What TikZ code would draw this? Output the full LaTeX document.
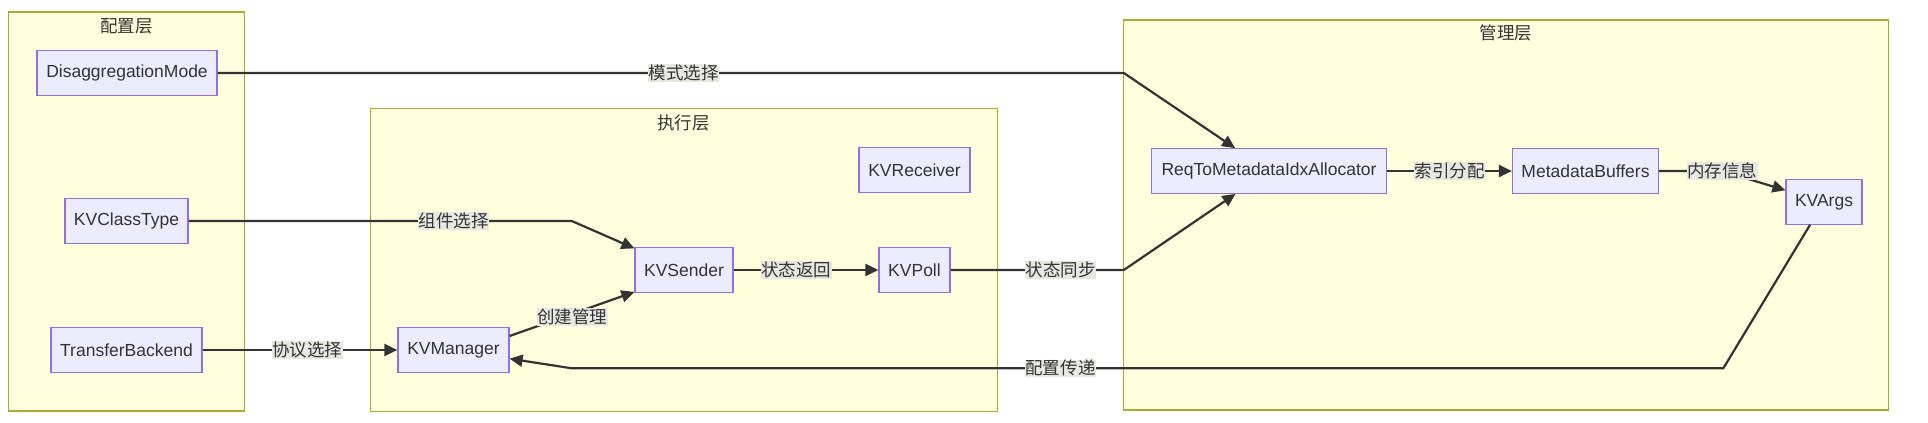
\documentclass[tikz,border=0pt]{standalone}
\usepackage{fontspec}
\setmainfont{Liberation Sans}
\newfontfamily\cjk{Noto Sans CJK SC}
\usetikzlibrary{arrows.meta}
\definecolor{clfill}{HTML}{FFFFDE}
\definecolor{clborder}{HTML}{AAAA33}
\definecolor{boxfill}{HTML}{ECECFF}
\definecolor{boxborder}{HTML}{9370DB}
\definecolor{txt}{HTML}{333333}
\definecolor{edgec}{HTML}{333333}
\definecolor{lblbg}{HTML}{E8E8E3}
\tikzset{
  cluster/.style={draw=clborder, fill=clfill, line width=1.2bp, inner sep=0},
  ttl/.style={text=txt, font=\cjk\fontsize{17.5bp}{21bp}\selectfont, inner sep=0},
  box/.style={draw=boxborder, fill=boxfill, line width=1.2bp, text=txt,
    font=\fontsize{17.5bp}{21bp}\selectfont, inner sep=0, minimum height=44.6bp},
  lbl/.style={fill=lblbg, text=txt, font=\cjk\fontsize{17.5bp}{21bp}\selectfont, inner sep=0.5bp},
  edge/.style={draw=edgec, line width=2.2bp, line join=miter, -{Triangle[length=13bp,width=12bp]}}
}
\begin{document}
\begin{tikzpicture}[x=1bp,y=-1bp]
\useasboundingbox[fill=white] (0,0) rectangle (1928,422);
% clusters
\node[cluster, minimum width=236.1bp, minimum height=399bp] (c1) at (126.65,211.5) {};
\node[cluster, minimum width=627.1bp, minimum height=302.6bp] (c2) at (684.25,260) {};
\node[cluster, minimum width=764.9bp, minimum height=390bp] (c3) at (1506.25,215) {};
\node[ttl] (t1) at (126.6,26) {配置层};
\node[ttl] (t2) at (683.6,123) {执行层};
\node[ttl] (t3) at (1506,33) {管理层};
% nodes
\node[box, minimum width=180bp] (DM) at (127,73) {DisaggregationMode};
\node[box, minimum width=123bp] (KVC) at (126.5,221) {KVClassType};
\node[box, minimum width=151bp] (TB) at (126.5,350) {TransferBackend};
\node[box, minimum width=111bp] (KVR) at (914.5,170) {KVReceiver};
\node[box, minimum width=98bp] (KVS) at (684,270) {KVSender};
\node[box, minimum width=71bp] (KVP) at (914.5,270) {KVPoll};
\node[box, minimum width=111bp] (KVM) at (453.5,350) {KVManager};
\node[box, minimum width=235bp] (RQ) at (1269,171) {ReqToMetadataIdxAllocator};
\node[box, minimum width=146bp] (MB) at (1585.5,171) {MetadataBuffers};
\node[box, minimum width=76bp] (KA) at (1824,202) {KVArgs};
% bend points
\coordinate (b1) at (1123.8,73);
\coordinate (b2) at (571.8,221);
\coordinate (b3) at (1123.8,270);
\coordinate (b4) at (1722,171);
\coordinate (b5) at (1723.3,368.3);
\coordinate (b6) at (571.8,368.3);
% edges
\draw[edge] (DM.east) -- node[lbl,pos=0.5146]{模式选择} (b1) -- (RQ);
\draw[edge] (KVC.east) -- node[lbl,pos=0.692]{组件选择} (b2) -- (KVS);
\draw[edge] ([yshift=14bp]KVM.east) -- node[lbl,pos=0.5,yshift=-3bp]{创建管理} ([yshift=1bp]KVS.south west);
\draw[edge] (TB) -- node[lbl,pos=0.538]{协议选择} (KVM);
\draw[edge] (KVS) -- node[lbl,pos=0.432]{状态返回} (KVP);
\draw[edge] (KVP.east) -- node[lbl,pos=0.636]{状态同步} (b3) -- (RQ);
\draw[edge] (RQ) -- node[lbl,pos=0.502]{索引分配} (MB);
\draw[edge] (MB.east) -- node[lbl,pos=1]{内存信息} (b4) -- (KA);
\draw[edge] ([xshift=-14bp]KA.south) -- (b5) -- node[lbl,pos=0.5756]{配置传递} (b6) -- (KVM);
\end{tikzpicture}
\end{document}
